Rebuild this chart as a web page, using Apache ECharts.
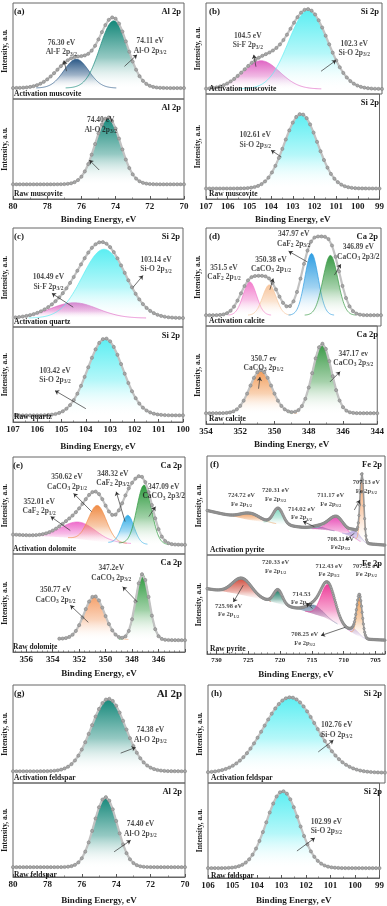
<!DOCTYPE html>
<html>
<head>
<meta charset="utf-8">
<script src="https://cdn.jsdelivr.net/npm/echarts@6/dist/echarts.min.js"></script>
<style>
  html, body { margin: 0; padding: 0; background: #fff; }
  #chart { width: 387px; height: 906px; }
</style>
</head>
<body>
<div id="chart"></div>
<script>
// ---- values ----
// binding energy in eV; intensity as a fraction of each sub-panel's height
// peak = [centre eV, height above background, FWHM eV], background = [eV, level] knots

const ticksA = [70, 72, 74, 76, 78, 80];
const ticksB = [99, 100, 101, 102, 103, 104, 105, 106, 107];
const ticksC = [100, 101, 102, 103, 104, 105, 106, 107];
const ticksD = [344, 346, 348, 350, 352, 354];
const ticksE = [344, 346, 348, 350, 352, 354, 356];
const ticksF = [705, 710, 715, 720, 725, 730];
const rangeE = [344, 357];
const rangeF = [703.5, 731.5];
const ticksG = [70, 72, 74, 76, 78, 80];
const ticksH = [99, 100, 101, 102, 103, 104, 105, 106];

// (a) muscovite Al 2p
const peaksA1 = [[76.30, 0.30, 1.7], [74.11, 0.70, 1.9]];
const envA1 = [[76.40, 0.31, 2.4], [74.11, 0.71, 1.9]];
const bgA1 = [[70, 0.114], [80, 0.114]];
const peaksA2 = [[74.45, 0.67, 1.75]];
const bgA2 = [[70, 0.147], [80, 0.147]];
// (b) muscovite Si 2p
const peaksB1 = [[104.5, 0.31, 2.0], [102.35, 0.865, 2.1]];
const bgB1 = [[99, 0.055], [107, 0.055]];
const peaksB2 = [[102.62, 0.71, 1.8]];
const bgB2 = [[99, 0.10], [107, 0.10]];
// (c) quartz Si 2p
const peaksC1 = [[104.49, 0.155, 2.3], [103.25, 0.695, 2.1]];
const bgC1 = [[100, 0.09], [107, 0.09]];
const peaksC2 = [[103.2, 0.81, 1.7]];
const bgC2 = [[100, 0.07], [107, 0.07]];
// (d) calcite Ca 2p
const peaksD1 = [[351.5, 0.34, 0.9], [350.38, 0.31, 0.9], [347.97, 0.63, 0.9], [346.89, 0.61, 1.0]];
const envD1 = [[351.5, 0.33, 1.3], [350.4, 0.33, 1.3], [348.0, 0.66, 1.3], [346.9, 0.66, 1.3]];
const bgD1 = [[344, 0.11], [354, 0.11]];
const peaksD2 = [[350.8, 0.44, 1.5], [347.22, 0.71, 1.3]];
const bgD2 = [[344, 0.11], [354, 0.11]];
// (e) dolomite Ca 2p
const peaksE1 = [[352.01, 0.175, 3.0], [350.62, 0.37, 1.6], [348.32, 0.29, 1.1], [347.09, 0.61, 1.3]];
const envE1 = [[352.0, 0.22, 3.0], [350.6, 0.38, 2.0], [348.3, 0.42, 1.6], [347.1, 0.58, 1.6]];
const bgE1 = [[344, 0.095], [347, 0.10], [350, 0.12], [353, 0.17], [357, 0.20]];
const peaksE2 = [[350.85, 0.44, 1.8], [347.22, 0.67, 1.2]];
const bgE2 = [[344, 0.12], [357, 0.14]];
const envRangeE2 = [344, 353.4];
// (f) pyrite Fe 2p
const peaksF1 = [[724.72, 0.07, 3.5], [720.31, 0.16, 1.8], [714.02, 0.03, 2.5], [711.17, 0.15, 3.0], [708.11, 0.08, 1.8], [707.13, 0.66, 0.7]];
const bgF1 = [[703.5, 0.10], [706.5, 0.115], [707.5, 0.14], [709, 0.19], [711, 0.24], [715, 0.265], [720, 0.31], [725, 0.355], [731.5, 0.45]];
const peaksF2 = [[725.98, 0.17, 3.5], [720.33, 0.14, 1.6], [714.6, 0.09, 3.0], [712.43, 0.35, 2.6], [708.25, 0.05, 1.5], [707.52, 0.40, 1.0]];
const bgF2 = [[703.5, 0.14], [706.5, 0.15], [708, 0.19], [710, 0.27], [713, 0.37], [717, 0.45], [722, 0.54], [727, 0.61], [731.5, 0.66]];
// (g) feldspar Al 2p
const peaksG1 = [[74.45, 0.74, 2.35]];
const bgG1 = [[70, 0.12], [80, 0.12]];
const peaksG2 = [[74.62, 0.745, 1.6]];
const bgG2 = [[70, 0.105], [80, 0.105]];
// (h) feldspar Si 2p
const peaksH1 = [[102.75, 0.77, 2.45]];
const bgH1 = [[99, 0.105], [106, 0.105]];
const peaksH2 = [[102.95, 0.81, 1.55]];
const bgH2 = [[99, 0.104], [106, 0.104]];

// peak labels, {..} = subscript
const textsA1 = ['76.30 eV\nAl-F 2p{3/2}', '74.11 eV\nAl-O 2p{3/2}'];
const textsA2 = ['74.40 eV\nAl-O 2p{3/2}'];
const textsB1 = ['104.5 eV\nSi-F 2p{3/2}', '102.3 eV\nSi-O 2p{3/2}'];
const textsB2 = ['102.61 eV\nSi-O 2p{3/2}'];
const textsC1 = ['104.49 eV\nSi-F 2p{3/2}', '103.14 eV\nSi-O 2p{3/2}'];
const textsC2 = ['103.42 eV\nSi-O 2p{3/2}'];
const textsD1 = ['351.5 eV\nCaF{2} 2p{1/2}', '350.38 eV\nCaCO{3} 2p{1/2}', '347.97 eV\nCaF{2} 2p{3/2}', '346.89 eV\nCaCO{3} 2p3/2'];
const textsD2 = ['350.7 ev\nCaCO{3} 2p{1/2}', '347.17 ev\nCaCO{3} 2p{3/2}'];
const textsE1 = ['352.01 eV\nCaF{2} 2p{1/2}', '350.62 eV\nCaCO{3} 2p{1/2}', '348.32 eV\nCaF{2} 2p{3/2}', '347.09 eV\nCaCO{3} 2p3/2'];
const textsE2 = ['347.2eV\nCaCO{3} 2p{3/2}', '350.77 eV\nCaCO{3} 2p{1/2}'];
const textsF1 = ['724.72 eV\nFe 2p{1/2}', '720.31 eV\nFe 2p{3/2}', '714.02 eV\nFe 2p{3/2}', '711.17 eV\nFe 2p{3/2}', '707.13 eV\nFe 2p{3/2}', '708.11 eV\nFe2p{3/2}'];
const textsF2 = ['720.33 eV\nFe 2p{1/2}', '712.43 eV\nFe 2p{3/2}', '707.52 eV\nFe 2p{3/2}', '714.53\nFe 2p{3/2}', '725.98 eV\nFe 2p{1/2}', '708.25 eV\nFe 2p{3/2}'];
const textsG1 = ['74.38 eV\nAl-O 2p{3/2}'];
const textsG2 = ['74.40 eV\nAl-O 2p{3/2}'];
const textsH1 = ['102.76 eV\nSi-O 2p{3/2}'];
const textsH2 = ['102.99 eV\nSi-O 2p{3/2}'];

// ---- layout ----
const SERIF = '"Liberation Serif", "DejaVu Serif", serif';
const INK = '#1a1a1a';
const TEAL = '#15887a', CYAN = '#5ceef2', MAG = '#e066c4';

const boxes = [
  { letter: '(a)', left: 11, right: 184, top: 3, mid: 99, bottom: 199, ticks: ticksA, gap: 16 },
  { letter: '(b)', left: 206, right: 382, top: 3, mid: 94, bottom: 199, ticks: ticksB, gap: 16 },
  { letter: '(c)', left: 11, right: 183, top: 228, mid: 327, bottom: 422, ticks: ticksC, gap: 20 },
  { letter: '(d)', left: 206, right: 381, top: 228, mid: 326, bottom: 424, ticks: ticksD, gap: 16 },
  { letter: '(e)', left: 10, right: 185, top: 457, mid: 554, bottom: 652, ticks: ticksE, range: rangeE, gap: 17 },
  { letter: '(f)', left: 207, right: 385, top: 456, mid: 555, bottom: 654, ticks: ticksF, range: rangeF, gap: 16, small: true },
  { letter: '(g)', left: 11, right: 185, top: 685, mid: 783, bottom: 880, ticks: ticksG, gap: 19 },
  { letter: '(h)', left: 208, right: 385, top: 685, mid: 783, bottom: 881, ticks: ticksH, gap: 18 }
];

const subplots = [
  { box: 0, lower: false, peaks: peaksA1, env: envA1, bg: bgA1, texts: textsA1, colors: ['#2d5a88', TEAL], dot: 0.2,
    element: 'Al 2p', sample: 'Activation muscovite',
    notes: [{ at: [77.17, 0.535], arrow: [[76.87, 0.29], [77.02, 0.40]] }, { at: [71.98, 0.55], arrow: [[73.48, 0.34], [72.75, 0.46]] }] },
  { box: 0, lower: true, peaks: peaksA2, bg: bgA2, texts: textsA2, colors: [TEAL], dot: 0.2,
    element: 'Al 2p', sample: 'Raw muscovite',
    notes: [{ at: [74.87, 0.74], arrow: [[74.96, 0.29], [75.54, 0.39]] }] },
  { box: 1, lower: false, peaks: peaksB1, bg: bgB1, texts: textsB1, colors: [MAG, CYAN], dot: 0.16,
    element: 'Si 2p', sample: 'Activation muscovite',
    notes: [{ at: [105.1, 0.585], arrow: [[104.73, 0.30], [104.83, 0.43]] }, { at: [100.26, 0.50], arrow: [[101.77, 0.25], [101.09, 0.37]] }] },
  { box: 1, lower: true, peaks: peaksB2, bg: bgB2, texts: textsB2, colors: [CYAN], dot: 0.16,
    element: 'Si 2p', sample: 'Raw muscovite',
    notes: [{ at: [104.73, 0.56], arrow: [[103.52, 0.40], [104.0, 0.465]] }] },
  { box: 2, lower: false, peaks: peaksC1, bg: bgC1, texts: textsC1, colors: [MAG, CYAN], dot: 0.15,
    element: 'Si 2p', sample: 'Activation quartz',
    notes: [{ at: [105.54, 0.455], arrow: [[104.52, 0.20], [105.4, 0.34]] }, { at: [101.11, 0.63], arrow: [[102.06, 0.40], [101.65, 0.52]] }] },
  { box: 2, lower: true, peaks: peaksC2, bg: bgC2, texts: textsC2, colors: [CYAN], dot: 0.15,
    element: 'Si 2p', sample: 'Raw quartz',
    notes: [{ at: [105.27, 0.49], arrow: [[104.0, 0.14], [105.27, 0.33]] }] },
  { box: 3, lower: false, peaks: peaksD1, env: envD1, bg: bgD1, texts: textsD1, colors: ['#f27ccc', '#f7c59c', '#2f9ee2', '#3a9a46'], dot: 0.2,
    element: 'Ca 2p', sample: 'Activation calcite',
    notes: [{ at: [352.97, 0.546] }, { at: [350.29, 0.627], arrow: [[350.35, 0.37], [350.16, 0.485]] },
            { at: [348.99, 0.885], arrow: [[348.21, 0.654], [349.28, 0.763]] }, { at: [345.3, 0.756], arrow: [[346.66, 0.52], [346.3, 0.63]] }] },
  { box: 3, lower: true, peaks: peaksD2, bg: bgD2, texts: textsD2, colors: ['#f29c58', '#3a9a46'], dot: 0.2,
    element: 'Ca 2p', sample: 'Raw calcite',
    notes: [{ at: [350.64, 0.619], arrow: [[350.93, 0.36], [350.85, 0.48]] }, { at: [345.4, 0.67], arrow: [[346.76, 0.43], [346.17, 0.534]] }] },
  { box: 4, lower: false, peaks: peaksE1, env: envE1, bg: bgE1, texts: textsE1, colors: ['#ee6ccb', '#f08c46', '#34ade6', '#2e9a3e'], dot: 0.25,
    element: 'Ca 2p', sample: 'Activation dolomite',
    notes: [{ at: [355.02, 0.488], arrow: [[352.67, 0.242], [354.15, 0.386]] }, { at: [352.92, 0.744], arrow: [[351.06, 0.437], [352.42, 0.625]] },
            { at: [349.45, 0.778], arrow: [[348.53, 0.334], [349.2, 0.642]] }, { at: [345.61, 0.642], arrow: [[346.73, 0.386], [346.23, 0.488]] }] },
  { box: 4, lower: true, peaks: peaksE2, bg: bgE2, envRange: envRangeE2, texts: textsE2, colors: ['#f5a06a', '#2e9a3e'], dot: 0.25,
    element: 'Ca 2p', sample: 'Raw dolomite',
    notes: [{ at: [349.57, 0.803], arrow: [[347.6, 0.51], [348.71, 0.666]] }, { at: [353.78, 0.579], arrow: [[351.31, 0.303], [352.67, 0.476]] }] },
  { box: 5, lower: false, peaks: peaksF1, bg: bgF1, texts: textsF1, colors: ['#f0a062', '#7fd6be', '#5a8ea3', '#e84db6', '#b9ade0', '#f5a36a'], dot: 0.1,
    element: 'Fe 2p', sample: 'Activation pyrite',
    notes: [{ at: [726.07, 0.556] }, { at: [720.71, 0.606] }, { at: [716.63, 0.42], arrow: [[714.6, 0.286], [716.4, 0.34]] },
            { at: [712.04, 0.556] }, { at: [706.43, 0.69], arrow: [[708.32, 0.455], [707.45, 0.556]] },
            { at: [710.5, 0.118], arrow: [[708.32, 0.219], [709.74, 0.152]] }] },
  { box: 5, lower: true, peaks: peaksF2, bg: bgF2, texts: textsF2, colors: ['#d04a3a', '#147a62', '#7892ae', '#ee3f9a', '#c9b8e8', '#f0a058'], dot: 0.1,
    element: 'Fe 2p', sample: 'Raw pyrite',
    notes: [{ at: [720.71, 0.88] }, { at: [712.3, 0.847] }, { at: [706.43, 0.847] },
            { at: [716.63, 0.56], arrow: [[714.9, 0.46], [715.9, 0.515]] }, { at: [728.1, 0.44], arrow: [[725.8, 0.695], [727.35, 0.525]] },
            { at: [716.12, 0.153], arrow: [[709.74, 0.27], [713.57, 0.186]] }] },
  { box: 6, lower: false, peaks: peaksG1, bg: bgG1, texts: textsG1, colors: [TEAL], dot: 0.2,
    element: 'Al 2p', elementSize: 11, sample: 'Activation feldspar',
    notes: [{ at: [72.01, 0.49], arrow: [[73.74, 0.305], [72.87, 0.363]] }] },
  { box: 6, lower: true, peaks: peaksG2, bg: bgG2, texts: textsG2, colors: [TEAL], dot: 0.2,
    element: 'Al 2p', sample: 'Raw feldspar',
    notes: [{ at: [72.59, 0.512], arrow: [[74.12, 0.268], [73.16, 0.39]] }] },
  { box: 7, lower: false, peaks: peaksH1, bg: bgH1, texts: textsH1, colors: [CYAN], dot: 0.14,
    element: 'Si 2p', sample: 'Activation feldspar',
    notes: [{ at: [100.91, 0.539], arrow: [[101.64, 0.317], [101.04, 0.437]] }] },
  { box: 7, lower: true, peaks: peaksH2, bg: bgH2, texts: textsH2, colors: [CYAN], dot: 0.14,
    element: 'Si 2p', sample: 'Raw feldspar',
    notes: [{ at: [101.17, 0.543], arrow: [[102.37, 0.284], [101.64, 0.422]] }] }
];

// ---- helpers ----
function gauss(p, x) {
  const s = p[2] / 2.3548;
  return p[1] * Math.exp(-((x - p[0]) * (x - p[0])) / (2 * s * s));
}
function bgAt(knots, x) {
  for (let i = 1; i < knots.length; i++) {
    if (x <= knots[i][0] || i === knots.length - 1) {
      const [x0, y0] = knots[i - 1], [x1, y1] = knots[i];
      return y0 + (y1 - y0) * (x - x0) / (x1 - x0);
    }
  }
}
function samples(lo, hi, step) {
  const n = Math.round((hi - lo) / step);
  return Array.from({ length: n + 1 }, (_, i) => +(lo + i * step).toFixed(4));
}
function fade(c) {
  return new echarts.graphic.LinearGradient(0, 0, 0, 1, [
    { offset: 0, color: c },
    { offset: 0.55, color: echarts.color.modifyAlpha(c, 0.45) },
    { offset: 1, color: 'rgba(255,255,255,0.05)' }
  ]);
}
function richText(str) {
  return str.split('\n').map(line =>
    line.split(/(\{[^}]*\})/).filter(Boolean).map(seg =>
      seg[0] === '{' ? '{s|' + seg.slice(1, -1) + '}' : '{t|' + seg + '}'
    ).join('')
  ).join('\n');
}

// one component: filled band between background and background + peak
function componentSeries(i, xs, bg, p, color) {
  const rows = xs.map(x => { const b = bgAt(bg, x); return [x, b + gauss(p, x), b]; })
    .filter(r => r[1] - r[2] > 0.0015);
  return {
    type: 'custom', xAxisIndex: i, yAxisIndex: i, silent: true, z: 2,
    encode: { x: 0, y: 1 },
    data: rows,
    renderItem: (params, api) => {
      if (params.dataIndex !== 0) return null;
      const upper = rows.map(r => api.coord([r[0], r[1]]));
      const lower = rows.map(r => api.coord([r[0], r[2]])).reverse();
      return {
        type: 'group',
        children: [
          { type: 'polygon', shape: { points: upper.concat(lower) }, style: { fill: fade(color) } },
          { type: 'polyline', shape: { points: upper }, style: { stroke: color, lineWidth: 0.7, fill: null } }
        ]
      };
    }
  };
}

const grids = [], xAxes = [], yAxes = [], series = [], graphics = [];

subplots.forEach((sp, i) => {
  const b = boxes[sp.box];
  const top = sp.lower ? b.mid : b.top;
  const bot = sp.lower ? b.bottom : b.mid;
  const lo = b.range ? b.range[0] : b.ticks[0];
  const hi = b.range ? b.range[1] : b.ticks[b.ticks.length - 1];
  const fs = b.small ? 6.5 : 7.5;

  grids.push({ left: b.left, top: top, width: b.right - b.left, height: bot - top,
    show: true, borderColor: '#666', borderWidth: 1, backgroundColor: 'transparent' });

  const xa = {
    type: 'value', gridIndex: i, inverse: true, min: lo, max: hi,
    splitLine: { show: false },
    axisLine: { show: false }, axisTick: { show: false }, axisLabel: { show: false }
  };
  if (!b.range) xa.interval = b.ticks[1] - b.ticks[0];
  else xa.splitNumber = b.ticks.length;
  if (sp.lower) {
    Object.assign(xa, {
      axisLine: { show: true, onZero: false, lineStyle: { color: '#666', width: 1 } },
      axisTick: { show: true, inside: true, length: 3, lineStyle: { color: '#555' } },
      minorTick: { show: true, splitNumber: b.range ? 5 : 2, length: 1.5, lineStyle: { color: '#777' } },
      axisLabel: { show: true, margin: 3, color: INK, fontFamily: SERIF, fontWeight: 'bold',
        fontSize: b.small ? 7 : 9, showMinLabel: !b.range, showMaxLabel: !b.range },
      name: 'Binding Energy, eV', nameLocation: 'middle', nameGap: b.gap,
      nameTextStyle: { color: INK, fontFamily: SERIF, fontWeight: 'bold', fontSize: 9 }
    });
  }
  xAxes.push(xa);

  yAxes.push({
    type: 'value', gridIndex: i, min: 0, max: 1,
    splitLine: { show: false }, axisLine: { show: false }, axisTick: { show: false }, axisLabel: { show: false },
    name: 'Intensity, a.u.', nameLocation: 'middle', nameGap: 4, nameRotate: 90,
    nameTextStyle: { color: INK, fontFamily: SERIF, fontWeight: 'bold', fontSize: 7.5 }
  });

  // fitted components
  const xs = samples(lo, hi, 0.04);
  sp.peaks.forEach((p, k) => series.push(componentSeries(i, xs, sp.bg, p, sp.colors[k])));

  // measured envelope (grey dots)
  const env = sp.env || sp.peaks;
  const er = sp.envRange || [lo, hi];
  const xe = samples(er[0], er[1], sp.dot);
  const dense = b.small;
  series.push({
    type: 'line', xAxisIndex: i, yAxisIndex: i, silent: true, z: 3,
    data: xe.map(x => [x, bgAt(sp.bg, x) + env.reduce((s, p) => s + gauss(p, x), 0)]),
    symbol: 'circle', symbolSize: dense ? 2.4 : 3.2, showSymbol: true,
    lineStyle: { color: dense ? '#9a9a9a' : '#c2c2c2', width: dense ? 1.6 : 2.2 },
    itemStyle: { color: '#a8a8a8', borderColor: '#7c7c7c', borderWidth: 0.5 }
  });

  // peak labels and arrows
  const arrows = sp.notes.filter(n => n.arrow).map(n => [{ coord: n.arrow[0] }, { coord: n.arrow[1] }]);
  series.push({
    type: 'scatter', xAxisIndex: i, yAxisIndex: i, silent: true, z: 6,
    symbolSize: 0, itemStyle: { color: 'transparent' },
    data: sp.notes.map((n, k) => ({ value: n.at, label: { formatter: richText(sp.texts[k]) } })),
    label: {
      show: true, position: 'inside', align: 'center',
      rich: {
        t: { fontFamily: SERIF, fontWeight: 'bold', fontSize: fs, color: INK, lineHeight: fs + 2, verticalAlign: 'middle' },
        s: { fontFamily: SERIF, fontWeight: 'bold', fontSize: fs - 2, color: INK, lineHeight: fs - 3, verticalAlign: 'bottom' }
      }
    },
    markLine: {
      silent: true, animation: false, symbol: ['none', 'arrow'], symbolSize: 4,
      lineStyle: { color: '#333', width: 0.7, type: 'solid' }, label: { show: false },
      data: arrows
    }
  });

  // corner texts
  graphics.push({ type: 'text', x: b.right - 3, y: top + 9, z: 10,
    style: { text: sp.element, fill: INK, font: 'bold ' + (sp.elementSize || 8.5) + 'px ' + SERIF,
      align: 'right', verticalAlign: 'middle', textAlign: 'right', textVerticalAlign: 'middle' } });
  graphics.push({ type: 'text', x: b.left + 3, y: bot - 5, z: 10,
    style: { text: sp.sample, fill: INK, font: 'bold 7.5px ' + SERIF,
      align: 'left', verticalAlign: 'middle', textAlign: 'left', textVerticalAlign: 'middle' } });
  if (!sp.lower) {
    graphics.push({ type: 'text', x: b.left + 3, y: top + 9, z: 10,
      style: { text: b.letter, fill: INK, font: 'bold 9px ' + SERIF,
        align: 'left', verticalAlign: 'middle', textAlign: 'left', textVerticalAlign: 'middle' } });
  }
});

const chart = echarts.init(document.getElementById('chart'), null, { renderer: 'canvas' });
chart.setOption({
  animation: false,
  backgroundColor: '#fff',
  grid: grids,
  xAxis: xAxes,
  yAxis: yAxes,
  series: series,
  graphic: graphics
});
</script>
</body>
</html>
